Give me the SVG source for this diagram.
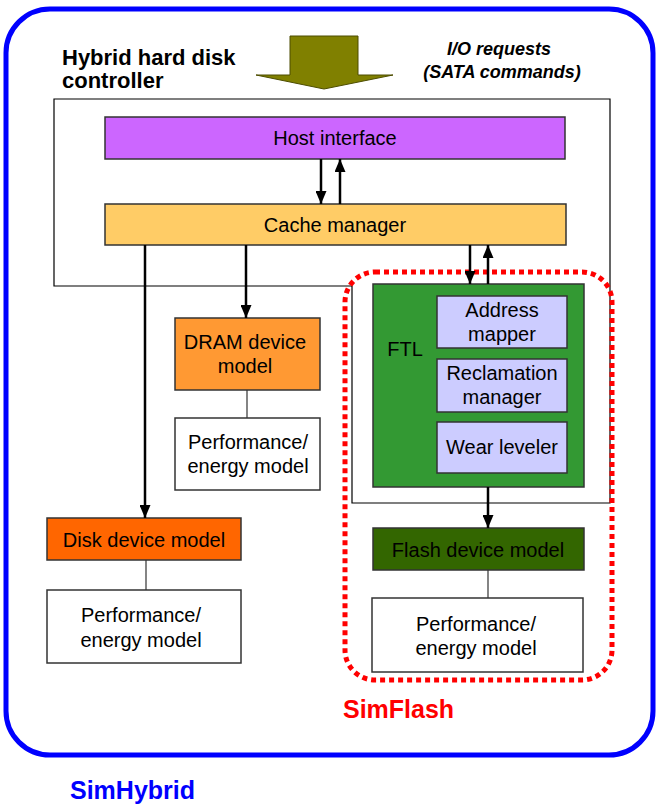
<svg xmlns="http://www.w3.org/2000/svg" width="658" height="806" viewBox="0 0 658 806">
<defs>
<marker id="ah" viewBox="0 0 13 11" markerWidth="13" markerHeight="11" refX="13" refY="5.5" orient="auto" markerUnits="userSpaceOnUse">
<path d="M0,0 L13,5.5 L0,11 z" fill="#000"/>
</marker>
</defs>
<style>
.box{stroke:#333;stroke-width:1.5}
.t{font-family:"Liberation Sans",Arial,sans-serif;font-size:20px;fill:#000;text-anchor:middle}
.arr{stroke:#000;stroke-width:2.5;fill:none;marker-end:url(#ah)}
.ln{stroke:#333;stroke-width:1.2;fill:none}
.b{font-family:"Liberation Sans",Arial,sans-serif;font-weight:bold}
</style>
<rect x="6" y="9" width="647" height="746" rx="44" fill="#fff" stroke="#0000FF" stroke-width="5"/>
<text class="b" x="62" y="65" font-size="22">Hybrid hard disk</text>
<text class="b" x="62" y="88" font-size="22">controller</text>
<text class="b" x="499" y="55" font-size="18" font-style="italic" text-anchor="middle">I/O requests</text>
<text class="b" x="502" y="78" font-size="18" font-style="italic" text-anchor="middle">(SATA commands)</text>
<path d="M290,36 L358,36 L358,75 L393,75 L324,89 L256,75 L290,75 z" fill="#808000" stroke="#4d4d00" stroke-width="1"/>
<path d="M54,99 L610,99 L610,503 L352,503 L352,286 L54,286 z" fill="none" stroke="#000" stroke-width="1.2"/>
<rect x="345" y="272" width="267" height="408" rx="30" fill="none" stroke="#FF0000" stroke-width="5" stroke-dasharray="5 4"/>
<g id="host"><rect class="box" x="105" y="117" width="460" height="42" fill="#CC66FF"/><text class="t" x="335" y="145">Host interface</text></g>
<g id="cache"><rect class="box" x="105" y="204" width="461" height="41" fill="#FFCC66"/><text class="t" x="335" y="232">Cache manager</text></g>
<g id="ftl"><rect class="box" x="373" y="284" width="211" height="203" fill="#339933"/><text class="t" x="405" y="356">FTL</text></g>
<g id="addr"><rect class="box" x="437" y="296" width="130" height="52" fill="#CCCCFF"/><text class="t" x="502" y="317">Address</text><text class="t" x="502" y="341">mapper</text></g>
<g id="recl"><rect class="box" x="437" y="359" width="130" height="53" fill="#CCCCFF"/><text class="t" x="502" y="380">Reclamation</text><text class="t" x="502" y="404">manager</text></g>
<g id="wear"><rect class="box" x="437" y="422" width="130" height="51" fill="#CCCCFF"/><text class="t" x="502" y="454">Wear leveler</text></g>
<g id="dram"><rect class="box" x="175" y="318" width="145" height="72" fill="#FF9933"/><text class="t" x="245" y="349">DRAM device</text><text class="t" x="245" y="373">model</text></g>
<g id="dramperf"><rect class="box" x="175" y="418" width="145" height="72" fill="#fff"/><text class="t" x="248" y="449">Performance/</text><text class="t" x="248" y="473">energy model</text></g>
<g id="disk"><rect class="box" x="47" y="518" width="194" height="42" fill="#FF6600"/><text class="t" x="144" y="547">Disk device model</text></g>
<g id="diskperf"><rect class="box" x="47" y="590" width="194" height="73" fill="#fff"/><text class="t" x="141" y="622">Performance/</text><text class="t" x="141" y="647">energy model</text></g>
<g id="flash"><rect class="box" x="373" y="528" width="211" height="42" fill="#336600"/><text class="t" x="478" y="557">Flash device model</text></g>
<g id="flashperf"><rect class="box" x="372" y="598" width="211" height="74" fill="#fff"/><text class="t" x="476" y="631">Performance/</text><text class="t" x="476" y="655">energy model</text></g>
<g id="connectors">
<line class="arr" x1="321" y1="159" x2="321" y2="204"/>
<line class="arr" x1="340" y1="204" x2="340" y2="159"/>
<line class="arr" x1="470" y1="245" x2="470" y2="284"/>
<line class="arr" x1="488" y1="284" x2="488" y2="245"/>
<line class="arr" x1="246" y1="245" x2="246" y2="318"/>
<line class="arr" x1="145" y1="245" x2="145" y2="518"/>
<line class="arr" x1="488" y1="487" x2="488" y2="528"/>
<line class="ln" x1="247" y1="390" x2="247" y2="418"/>
<line class="ln" x1="146" y1="560" x2="146" y2="590"/>
<line class="ln" x1="488" y1="570" x2="488" y2="598"/>
</g>
<text class="b" x="343" y="718" font-size="25" fill="#FF0000">SimFlash</text>
<text class="b" x="70" y="799" font-size="25" fill="#0000FF">SimHybrid</text>
</svg>
